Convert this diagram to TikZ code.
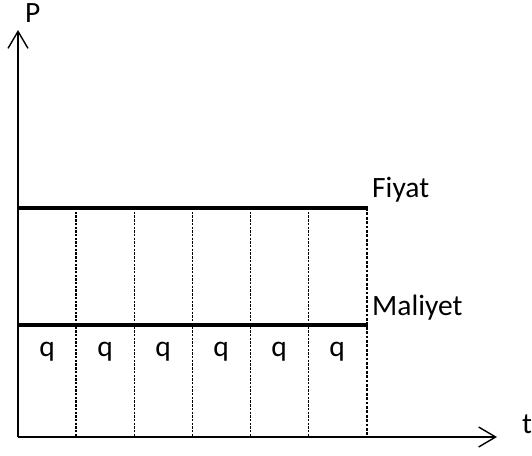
\documentclass[tikz,border=0pt]{standalone}
\usepackage{fontspec}
\setmainfont{Carlito}
\usetikzlibrary{arrows.meta}
\begin{document}
\begin{tikzpicture}[x=1pt,y=-1pt,
  axis/.style={line width=1.4pt,-{Straight Barb[length=17pt,width=20pt,line width=1.4pt]}},
  level/.style={line width=3.2pt},
  divider/.style={line width=1.5pt,dash pattern=on 2.4pt off 1.3pt},
  lastdivider/.style={line width=2.4pt,dash pattern=on 2.8pt off 1.6pt},
  lbl/.style={font=\fontsize{29.5}{32}\selectfont,inner sep=0pt},
  qlbl/.style={font=\fontsize{29.5}{32}\selectfont,inner sep=0pt,anchor=base}]
  \useasboundingbox (0,0) rectangle (532,455);
  % axes
  \coordinate (O) at (18,437);
  \coordinate (Ytop) at (18,30);
  \coordinate (Xend) at (497,437);
  \draw[axis] (O) -- (Ytop);
  \draw[axis] (O) -- (Xend);
  \node[lbl,anchor=base west] (P) at (25,22) {P};
  \node[lbl,anchor=base west] (t) at (522,433) {t};
  % price and cost levels
  \coordinate (F0) at (18,208);
  \coordinate (F1) at (368,208);
  \coordinate (M0) at (18,325);
  \coordinate (M1) at (368,325);
  \draw[level] (F0) -- (F1);
  \draw[level] (M0) -- (M1);
  \node[lbl,anchor=base west] (fiyat) at (372,197) {Fiyat};
  \node[lbl,anchor=base west] (maliyet) at (372,315) {Maliyet};
  % period dividers and quantity labels
  \foreach \i/\x in {1/76,2/134.5,3/192.5,4/250.5,5/308.5}{
    \coordinate (d\i t) at (\x,208);
    \coordinate (d\i b) at (\x,437);
    \draw[divider] (d\i t) -- (d\i b);
  }
  \coordinate (d6t) at (367,208);
  \coordinate (d6b) at (367,437);
  \draw[lastdivider] (d6t) -- (d6b);
  \foreach \i/\x in {1/47,2/105,3/163,4/221,5/279,6/337}{
    \node[qlbl] (q\i) at (\x,356) {q};
  }
\end{tikzpicture}
\end{document}
